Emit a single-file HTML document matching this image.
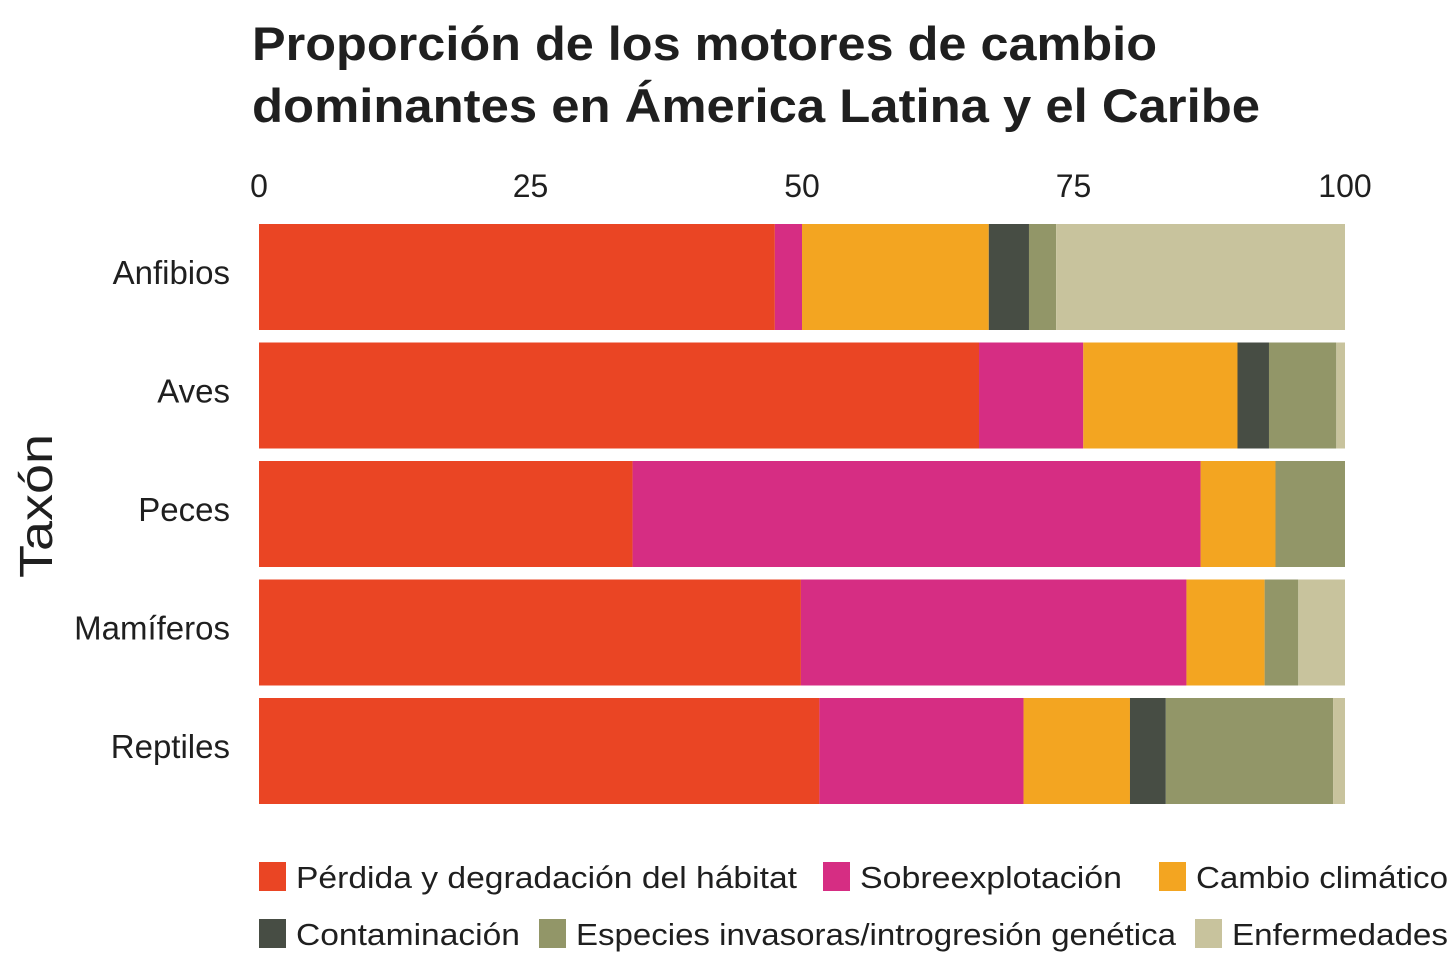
<!DOCTYPE html>
<html><head><meta charset="utf-8"><style>
body{margin:0;background:#fff;width:1456px;height:964px;overflow:hidden;font-family:"Liberation Sans",sans-serif;}
</style></head><body>
<svg width="1456" height="964" id="c">
<text x="252" y="60" font-size="47" font-weight="bold" fill="#1f1f1f" textLength="905" lengthAdjust="spacingAndGlyphs">Proporción de los motores de cambio</text>
<text x="252" y="122" font-size="47" font-weight="bold" fill="#1f1f1f" textLength="1008" lengthAdjust="spacingAndGlyphs">dominantes en Ámerica Latina y el Caribe</text>
<text transform="translate(52,506) rotate(-90)" text-anchor="middle" font-size="46" fill="#1f1f1f" textLength="144" lengthAdjust="spacingAndGlyphs">Taxón</text>
<g id="bars"></g><g id="ticks"></g><g id="legend"></g>
</svg>
<script>
const categories=["Anfibios","Aves","Peces","Mamíferos","Reptiles"];
const habitat=[47.5,66.3,34.4,49.9,51.6];
const sobre=[2.5,9.6,52.3,35.5,18.8];
const clima=[17.2,14.2,6.9,7.2,9.8];
const contam=[3.7,2.9,0,0,3.3];
const invas=[2.5,6.2,6.4,3.1,15.4];
const enferm=[26.6,0.8,0,4.3,1.1];
const tickVals=[0,25,50,75,100];
const seriesNames=["Pérdida y degradación del hábitat","Sobreexplotación","Cambio climático","Contaminación","Especies invasoras/introgresión genética","Enfermedades"];
const series=[habitat,sobre,clima,contam,invas,enferm];
const colors=["#EA4524","#D62D83","#F3A521","#474D44","#929668","#C8C39D"];
const NS="http://www.w3.org/2000/svg";
const x=v=>259+v*10.86;
const y=i=>224+i*118.5;
const bh=106;
function mk(t,a,p){const e=document.createElementNS(NS,t);for(const k in a)e.setAttribute(k,a[k]);p.appendChild(e);return e;}
const bars=document.getElementById('bars');
categories.forEach((c,i)=>{
  let acc=0;
  series.forEach((s,j)=>{
    const r=mk('rect',{x:x(acc),y:y(i),width:Math.max(0,x(acc+s[i])-x(acc)),height:bh,fill:colors[j]},bars);
    
    
    acc+=s[i];
  });
  const t=mk('text',{x:230,y:y(i)+bh/2+7,'text-anchor':'end','font-size':33,fill:'#1f1f1f'},bars);
  t.textContent=c;
  
  
});
const ticks=document.getElementById('ticks');
tickVals.forEach(v=>{
  const t=mk('text',{x:x(v),y:197,'text-anchor':'middle','font-size':32,fill:'#1f1f1f'},ticks);
  t.textContent=v;
  
  
});
const lg=document.getElementById('legend');
const lpos=[[259,877],[823,877],[1159,877],[259,934],[539,934],[1195,934]];
const lw=[501,262,252,224,600,216];
seriesNames.forEach((n,j)=>{
  const g=mk('g',{},lg);
  
  
  mk('rect',{x:lpos[j][0],y:lpos[j][1]-15,width:27,height:29,fill:colors[j]},g);
  const t=mk('text',{x:lpos[j][0]+37,y:lpos[j][1]+11,'font-size':31,fill:'#1f1f1f',textLength:lw[j],lengthAdjust:'spacingAndGlyphs'},g);
  t.textContent=n;
});
</script>
</body></html>
